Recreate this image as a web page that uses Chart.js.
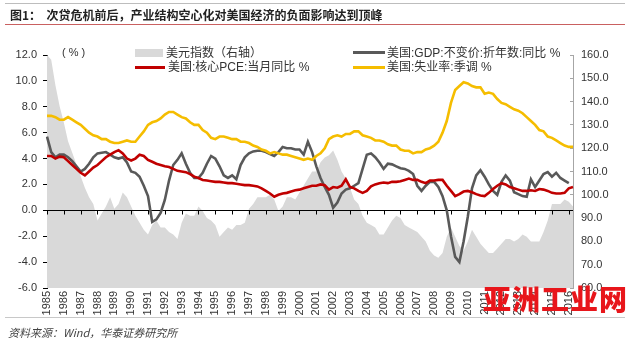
<!DOCTYPE html>
<html>
<head>
<meta charset="utf-8">
<script src="https://cdn.jsdelivr.net/npm/chart.js@4.4.1/dist/chart.umd.min.js"></script>
<style>
    html, body { margin: 0; padding: 0; background: #fff; }
    #wrap { position: relative; width: 640px; height: 347px; overflow: hidden;
            font-family: "Liberation Sans", "Noto Sans CJK SC", sans-serif; color: #333; }
    #chart { position: absolute; left: 0; top: 0; }
    .abs { position: absolute; white-space: nowrap; }
    .title { left: 10px; top: 6px; font-size: 12px; font-weight: bold; color: #222;
             font-family: "Noto Sans CJK SC", sans-serif; }
    .legend-text { font-size: 12px; line-height: 14px; font-family: "Liberation Sans", "Noto Sans CJK SC", sans-serif; }
    .source { left: 8px; top: 324px; font-size: 11px; font-style: italic; color: #444;
              font-family: "Noto Sans CJK SC", sans-serif; }
    .mark { left: 483px; top: 278px; font-size: 28px; font-weight: 900; color: #e8161b;
            font-family: "Noto Sans CJK SC", sans-serif; letter-spacing: 1px; }
</style>
</head>
<body>
<div id="wrap">
    <canvas id="chart" width="640" height="347"></canvas>

    <div class="abs" style="left:5px;top:3px;width:620px;height:1px;background:#bdbdbd"></div>
    <div class="abs title">图1：&nbsp; 次贷危机前后，产业结构空心化对美国经济的负面影响达到顶峰</div>
    <div class="abs" style="left:5px;top:24px;width:620px;height:1px;background:#c96060"></div>

    <div class="abs legend-text" style="left:62px;top:45px;font-size:11px">( % )</div>

    <div class="abs" style="left:135px;top:49px;width:28px;height:8px;background:#d9d9d9"></div>
    <div class="abs legend-text" style="left:166px;top:46px">美元指数（右轴）</div>
    <div class="abs" style="left:135px;top:66px;width:30px;height:3px;background:#c00000"></div>
    <div class="abs legend-text" style="left:168px;top:60px">美国:核心PCE:当月同比 %</div>

    <div class="abs" style="left:353px;top:51px;width:32px;height:3px;background:#595959"></div>
    <div class="abs legend-text" style="left:387px;top:46px">美国:GDP:不变价:折年数:同比 %</div>
    <div class="abs" style="left:353px;top:66px;width:32px;height:3px;background:#f5bd00"></div>
    <div class="abs legend-text" style="left:387px;top:60px">美国:失业率:季调 %</div>

    <div class="abs" style="left:5px;top:317px;width:620px;height:1px;background:#c8c8c8"></div>
    <div class="abs source">资料来源：Wind，华泰证券研究所</div>
    <div class="abs mark">亚洲工业网</div>
</div>

<script>
// Quarterly data, 1985Q1 - 2016Q2

const years = [1985, 1986, 1987, 1988, 1989, 1990, 1991, 1992, 1993, 1994, 1995,
    1996, 1997, 1998, 1999, 2000, 2001, 2002, 2003, 2004, 2005, 2006, 2007,
    2008, 2009, 2010, 2011, 2012, 2013, 2014, 2015, 2016];

const quarterLabels = [];
years.forEach(year => {
    for (let q = 1; q <= 4; q++) {
        if (year === 2016 && q > 2) break;
        quarterLabels.push(year + 'Q' + q);
    }
});

// 美元指数 (right axis)
const dollarIndex = [
    160, 158, 147, 138,   131, 123, 118, 113,   108, 103, 99, 96,   89, 92, 95, 99,
    94, 96, 101, 99,      95, 91, 88, 85,       83, 87, 89, 86,     86, 84, 83, 81,
    88, 92, 91, 91,       95, 93, 90, 89,       87, 82, 84, 86,     85, 87, 87, 88,
    94, 96, 99, 99,       99, 100, 98, 93,      95, 99, 99, 98,     101, 104, 107, 110,
    110, 114, 116, 117,   119, 115, 110, 107,   103, 98, 96, 91,    88, 87, 86, 83,
    83, 86, 89, 91,       90, 87, 86, 85,       84, 82, 80, 76,     74, 73, 75, 82,
    86, 82, 78, 76,       80, 85, 82, 79,       77, 75, 75, 77,     79, 81, 81, 80,
    81, 83, 82, 80,       80, 80, 84, 89,       96, 96, 96, 98,     97, 95
];

// 美国:GDP:不变价:折年数:同比 %
const gdpGrowth = [
    5.7, 4.5, 4.1, 4.3,   4.3, 4.1, 3.8, 3.4,   3.0, 3.2, 3.6, 4.1,   4.4, 4.45, 4.5, 4.3,
    4.1, 4.0, 4.1, 3.7,   3.0, 2.9, 2.6, 1.9,   1.1, -0.9, -0.7, -0.2, 0.8, 2.3, 3.5, 3.9,
    4.4, 3.6, 2.9, 2.5,   2.5, 2.9, 3.6, 4.2,   4.0, 3.4, 2.7, 2.5,   2.7, 2.4, 3.5, 4.1,
    4.4, 4.55, 4.6, 4.6,  4.5, 4.35, 4.2, 4.5,  4.9, 4.8, 4.8, 4.7,   4.7, 4.3, 5.3, 4.5,
    3.4, 2.5, 1.8, 1.2,   0.2, 0.6, 1.3, 1.6,   1.7, 1.9, 2.1, 3.2,   4.3, 4.4, 4.1, 3.7,
    3.2, 3.6, 3.55, 3.4,  3.25, 3.2, 3.05, 2.8, 1.9, 1.5, 1.9, 2.2,   2.2, 1.8, 1.1, 0.0,
    -2.0, -3.6, -4.0, -2.4, -0.5, 1.7, 2.7, 3.1, 2.6, 2.0, 1.5, 1.2,  2.2, 2.7, 2.3, 1.4,
    1.25, 1.1, 1.05, 2.4, 1.8, 2.3, 2.8, 2.95,  2.6, 2.9, 2.5, 2.3,   2.1, null
];

// 美国:核心PCE:当月同比 %
const corePce = [
    4.2, 4.2, 4.0, 4.15,  4.1, 3.8, 3.5, 3.2,   2.9, 2.7, 3.0, 3.3,   3.5, 3.8, 4.1, 4.3,
    4.5, 4.65, 4.4, 4.0,  3.85, 4.0, 4.3, 4.2,  3.9, 3.75, 3.6, 3.5,  3.4, 3.35, 3.2, 3.05,
    3.0, 2.95, 2.8, 2.6,  2.5, 2.35, 2.3, 2.25, 2.2, 2.2, 2.15, 2.1,  2.1, 2.05, 2.0, 1.95,
    1.95, 1.9, 1.85, 1.7, 1.5, 1.3, 1.05, 1.2,  1.3, 1.35, 1.45, 1.55, 1.6, 1.7, 1.8, 1.9,
    1.9, 2.0, 1.95, 1.6,  1.8, 1.75, 1.9, 2.4,  1.8, 1.7, 1.5, 1.35,  1.5, 1.85, 2.0, 2.1,
    2.15, 2.1, 2.2, 2.2,  2.25, 2.35, 2.45, 2.35, 2.35, 2.2, 2.1, 2.3, 2.3, 2.35, 2.35, 1.9,
    1.5, 1.1, 1.25, 1.45, 1.5, 1.4, 1.25, 1.15, 1.1, 1.35, 1.65, 1.9,  2.1, 2.0, 1.8, 1.7,
    1.6, 1.5, 1.5, 1.55,  1.5, 1.65, 1.6, 1.5,  1.35, 1.3, 1.3, 1.35, 1.7, 1.8
];

// 美国:失业率:季调 %
const unemployment = [
    7.3, 7.3, 7.2, 7.0,   7.0, 7.2, 7.0, 6.8,   6.6, 6.3, 6.0, 5.8,   5.7, 5.5, 5.5, 5.3,
    5.2, 5.2, 5.3, 5.4,   5.3, 5.3, 5.7, 6.1,   6.6, 6.8, 6.9, 7.1,   7.4, 7.6, 7.6, 7.4,
    7.2, 7.1, 6.8, 6.6,   6.6, 6.2, 6.0, 5.6,   5.5, 5.7, 5.7, 5.6,   5.5, 5.5, 5.3, 5.3,
    5.2, 5.0, 4.9, 4.7,   4.6, 4.4, 4.5, 4.4,   4.3, 4.3, 4.2, 4.1,   4.0, 3.9, 4.0, 3.9,
    4.2, 4.4, 4.8, 5.5,   5.7, 5.8, 5.7, 5.9,   5.9, 6.1, 6.1, 5.8,   5.7, 5.6, 5.4, 5.4,
    5.3, 5.1, 5.0, 5.0,   4.7, 4.6, 4.6, 4.4,   4.5, 4.5, 4.7, 4.8,   5.0, 5.3, 6.0, 6.9,
    8.3, 9.3, 9.6, 9.9,   9.8, 9.6, 9.5, 9.5,   9.0, 9.1, 9.0, 8.6,   8.3, 8.2, 8.0, 7.8,
    7.7, 7.5, 7.2, 6.9,   6.6, 6.2, 6.1, 5.7,   5.6, 5.4, 5.2, 5.0,   4.9, 4.9
];

const tickFont = { family: 'Liberation Sans', size: 11 };

// x axis drawn at the zero line of the left axis, with a tick per year
const zeroAxisPlugin = {
    id: 'zeroAxis',
    afterDatasetDraw(chart, args) {
        if (args.index !== 0) return;
        const { ctx, chartArea, scales } = chart;
        const y0 = Math.round(scales.y.getPixelForValue(0)) + 0.5;
        ctx.save();
        ctx.strokeStyle = '#000';
        ctx.lineWidth = 1;
        ctx.beginPath();
        ctx.moveTo(chartArea.left, y0);
        ctx.lineTo(chartArea.right, y0);
        quarterLabels.forEach((label, i) => {
            if (label.endsWith('Q1')) {
                const x = Math.round(scales.x.getPixelForValue(i)) + 0.5;
                ctx.moveTo(x, y0);
                ctx.lineTo(x, y0 + 4);
            }
        });
        ctx.stroke();
        ctx.restore();
    }
};

function lineSet(label, data, color, order) {
    return {
        label: label,
        data: data,
        yAxisID: 'y',
        borderColor: color,
        borderWidth: 2.6,
        pointRadius: 0,
        tension: 0,
        fill: false,
        order: order
    };
}

new Chart(document.getElementById('chart'), {
    type: 'line',
    data: {
        labels: quarterLabels,
        datasets: [
            {
                label: '美元指数（右轴）',
                data: dollarIndex,
                yAxisID: 'y1',
                borderColor: '#d9d9d9',
                backgroundColor: '#d9d9d9',
                borderWidth: 0,
                pointRadius: 0,
                tension: 0,
                fill: 'start',
                order: 4
            },
            lineSet('美国:GDP:不变价:折年数:同比 %', gdpGrowth, '#595959', 3),
            lineSet('美国:核心PCE:当月同比 %', corePce, '#c00000', 2),
            lineSet('美国:失业率:季调 %', unemployment, '#f5bd00', 1)
        ]
    },
    options: {
        responsive: false,
        animation: false,
        devicePixelRatio: 1,
        layout: { padding: { top: 55, left: 0, right: 0, bottom: 0 } },
        plugins: {
            legend: { display: false },
            tooltip: { enabled: false }
        },
        scales: {
            x: {
                type: 'category',
                offset: false,
                border: { display: false },
                grid: { display: false, drawTicks: false },
                ticks: {
                    autoSkip: false,
                    minRotation: 90,
                    maxRotation: 90,
                    padding: 3,
                    color: '#333',
                    font: tickFont,
                    callback: (value, index) => {
                        const label = quarterLabels[index];
                        return label.endsWith('Q1') ? label.slice(0, 4) : '';
                    }
                },
                afterFit: scale => { scale.height = 59; }
            },
            y: {
                position: 'left',
                min: -6,
                max: 12,
                border: { display: true, color: '#000', width: 1 },
                grid: { drawOnChartArea: false, drawTicks: true, tickLength: 4, color: '#000' },
                ticks: {
                    stepSize: 2,
                    padding: 6,
                    color: '#333',
                    font: tickFont,
                    callback: v => v.toFixed(1)
                },
                afterFit: scale => { scale.width = 47; }
            },
            y1: {
                position: 'right',
                min: 60,
                max: 160,
                border: { display: true, color: '#a6a6a6', width: 1 },
                grid: { drawOnChartArea: false, drawTicks: true, tickLength: -3, color: '#a6a6a6' },
                ticks: {
                    stepSize: 10,
                    padding: 11,
                    color: '#333',
                    font: tickFont,
                    callback: v => v.toFixed(1)
                },
                afterFit: scale => { scale.width = 67; }
            }
        }
    },
    plugins: [zeroAxisPlugin]
});
</script>
</body>
</html>
